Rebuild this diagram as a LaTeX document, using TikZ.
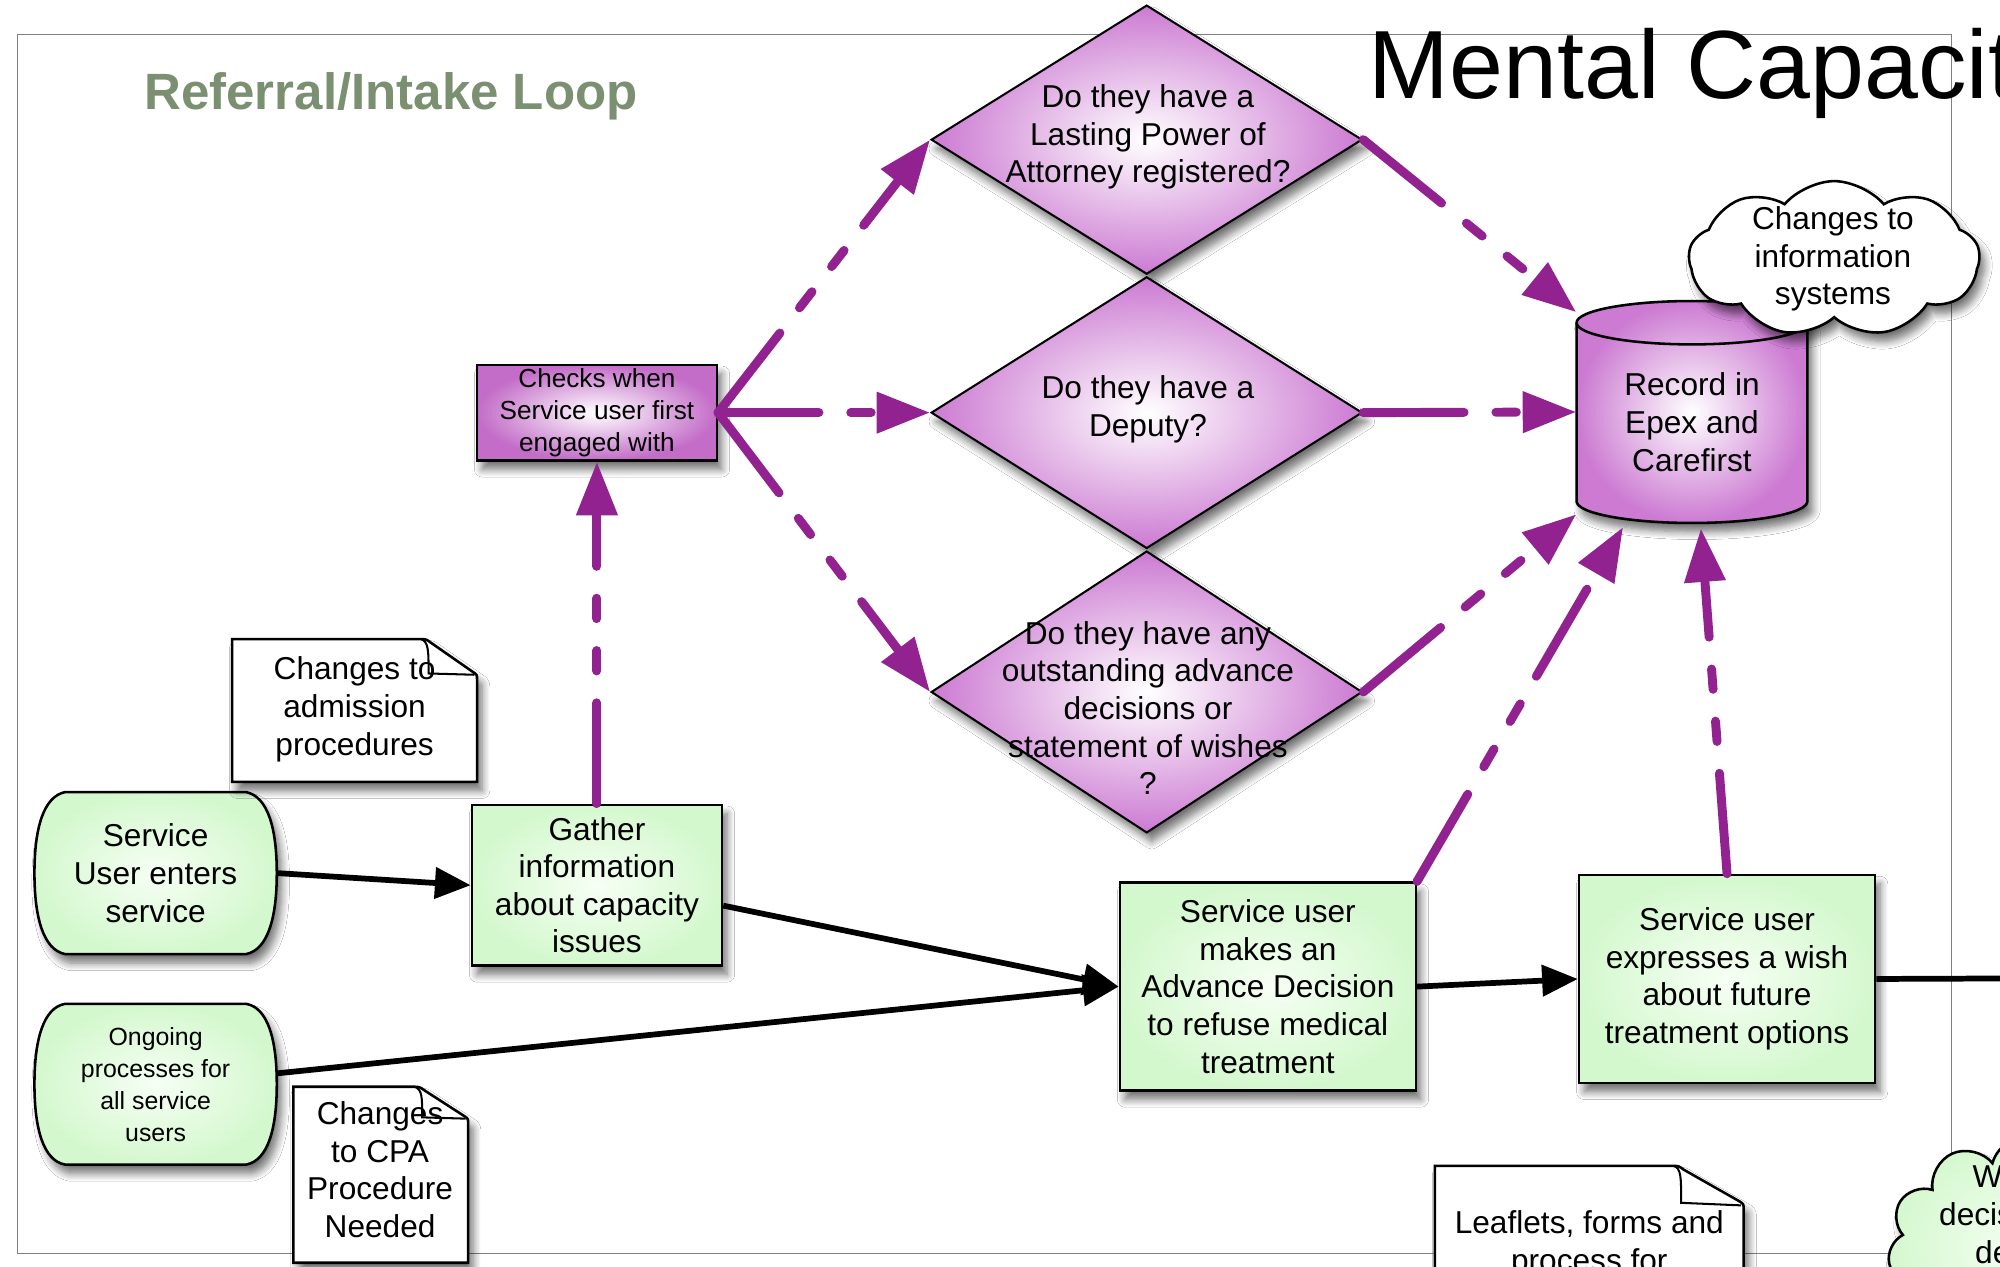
\documentclass[tikz,border=0pt]{standalone}
\usepackage{fontspec}
\setmainfont{Liberation Sans}
\usetikzlibrary{arrows.meta,shapes.geometric,shapes.symbols,shadows.blur}
\definecolor{pur}{RGB}{146,34,144}
\definecolor{pedge}{RGB}{204,122,210}
\definecolor{gedge}{RGB}{212,248,206}
\definecolor{gin}{RGB}{246,255,244}
\definecolor{ttl}{RGB}{122,144,112}
\tikzset{
  shad/.style={blur shadow={shadow xshift=4pt, shadow yshift=-7pt, shadow blur radius=6pt, shadow blur steps=8, shadow opacity=55}},
  txt/.style={font=\fontsize{24.8}{29.5}\selectfont, align=center, inner sep=0pt},
  gbox/.style={rectangle, draw=black, line width=2pt, inner color=gin, outer color=gedge, shad, txt},
  pfill/.style={inner color=white, outer color=pedge},
  dia/.style={diamond, draw=black, line width=1.6pt, pfill, shad, inner sep=0pt},
  pline/.style={draw=pur, line width=7pt, line cap=round, dash pattern=on 79pt off 25pt on 16pt off 25pt on 16pt off 25pt, -{Triangle[length=42pt,width=31pt]}},
  bline/.style={draw=black, line width=4.5pt, -{Triangle[length=28pt,width=24pt]}},
  notebox/.style={draw=black, line width=2pt, fill=white, shad}
}
\begin{document}
\begin{tikzpicture}[x=1pt,y=-1pt]
\useasboundingbox (0,0) rectangle (1568,993);
\fill[white] (0,0) rectangle (1568,993);
\begin{scope}
\clip (0,0) rectangle (1568,993);
% frame and titles
\draw[line width=0.8pt, draw=gray] (14,27) rectangle (1530,983);
\node[anchor=base west, inner sep=0pt, font=\fontsize{40}{48}\selectfont\bfseries, text=ttl] (ttl) at (113,86) {Referral/Intake Loop};
\node[anchor=base west, inner sep=0pt, font=\fontsize{76}{90}\selectfont] (mct) at (1073,77) {Mental Capacity Act};

% checks box
\node[rectangle, draw=black, line width=2pt, inner color=white, outer color=pedge!85!pur, shad, minimum width=188, minimum height=75, font=\fontsize{20.5}{25}\selectfont, align=center, inner sep=0pt] (chk) at (468,323.5) {Checks when\\Service user first\\engaged with};

% diamonds
\node[dia, minimum width=338, minimum height=211] (d1) at (899,109.5) {};
\node[txt] (d1t) at (900,107.5) {Do they have a\\Lasting Power of\\Attorney registered?};
\node[dia, minimum width=338, minimum height=213] (d2) at (899,323.5) {};
\node[txt] (d2t) at (900,321) {Do they have a\\Deputy?};
\node[dia, minimum width=338, minimum height=221] (d3) at (899,542.5) {};
\node[txt] (d3t) at (900,555) {Do they have any\\outstanding advance\\decisions or\\statement of wishes\\?};

% cylinder
\path[draw=black, line width=2pt, pfill, shad] (1236,253) -- (1236,393) arc[start angle=180, end angle=360, x radius=90.5pt, y radius=17pt] -- (1417,253) arc[start angle=0, end angle=180, x radius=90.5pt, y radius=17pt] -- cycle;
\draw[line width=2pt] (1236,253) arc[start angle=180, end angle=360, x radius=90.5pt, y radius=17pt];
\node[inner sep=0pt, minimum width=181, minimum height=174] (rec) at (1326.5,323) {};
\node[txt] (rect) at (1326.5,331) {Record in\\Epex and\\Carefirst};

% cloud
\node[cloud, cloud puffs=9, cloud puff arc=100, aspect=2.0, draw=black, line width=2pt, fill=white, shad, minimum width=228, minimum height=122, inner sep=0pt] (cl1) at (1438,203) {};
\node[txt] (cl1t) at (1437,203) {Changes to\\information\\systems};

% terminals
\begin{scope}[shift={(122,684.5)}]
\path[draw=black, line width=2pt, inner color=gin, outer color=gedge, shad] (-71,-63.5) -- (71,-63.5) .. controls (88,-60) and (95,-35) .. (95,0) .. controls (95,35) and (88,60) .. (71,63.5) -- (-71,63.5) .. controls (-88,60) and (-95,35) .. (-95,0) .. controls (-95,-35) and (-88,-60) .. (-71,-63.5) -- cycle;
\end{scope}
\node[txt, minimum width=190, minimum height=127] (sue) at (122,684.5) {Service\\User enters\\service};
\begin{scope}[shift={(122,850)}]
\path[draw=black, line width=2pt, inner color=gin, outer color=gedge, shad] (-71,-63) -- (71,-63) .. controls (88,-60) and (95,-35) .. (95,0) .. controls (95,35) and (88,60) .. (71,63) -- (-71,63) .. controls (-88,60) and (-95,35) .. (-95,0) .. controls (-95,-35) and (-88,-60) .. (-71,-63) -- cycle;
\end{scope}
\node[font=\fontsize{19.5}{25}\selectfont, align=center, inner sep=0pt, minimum width=190, minimum height=126] (ong) at (122,850.5) {Ongoing\\processes for\\all service\\users};

% green boxes
\node[gbox, minimum width=196, minimum height=126] (gath) at (468,694) {Gather\\information\\about capacity\\issues};
\node[gbox, minimum width=232, minimum height=163] (adv) at (994,773.5) {Service user\\makes an\\Advance Decision\\to refuse medical\\treatment};
\node[gbox, minimum width=232, minimum height=163] (wish) at (1354,767.5) {Service user\\expresses a wish\\about future\\treatment options};

% notes
\path[notebox] (182,501) -- (328,501) .. controls (334,501) .. (338,504) -- (371,527) .. controls (374,529) .. (374,533) -- (374,613) -- (182,613) -- cycle;
\draw[line width=1.6pt] (330,501) .. controls (336,503) and (336,510) .. (336,528) -- (372,529);
\node[txt, minimum width=192, minimum height=112] (adm) at (278,556) {Changes to\\admission\\procedures};

\path[notebox] (230,852) -- (323,852) .. controls (329,852) .. (333,855) -- (364,875) .. controls (367,877) .. (367,881) -- (367,990) -- (230,990) -- cycle;
\draw[line width=1.6pt] (325,852) .. controls (331,854) and (331,860) .. (331,876) -- (365,877);
\node[txt, minimum width=137, minimum height=138] (cpa) at (298,917) {Changes\\to CPA\\Procedure\\Needed};

\path[notebox] (1125,914) -- (1310,914) .. controls (1316,914) .. (1320,917) -- (1364,942) .. controls (1367,944) .. (1367,948) -- (1367,1070) -- (1125,1070) -- cycle;
\draw[line width=1.6pt] (1312,914) .. controls (1318,916) and (1318,922) .. (1318,943) -- (1365,945);
\node[txt] (lfl) at (1246,988) {Leaflets, forms and\\process for\\advance decisions};

% green cloud (cut off)
\node[cloud, cloud puffs=11, aspect=1.3, draw=black, line width=2pt, inner color=gin, outer color=gedge, shad, minimum width=220, minimum height=175, inner sep=0pt] (cl2) at (1590,978) {};
\node[txt] (cl2t) at (1572,952) {Who\\decisions\\deal};

% black connectors
\coordinate (offr) at (1600,767);
\draw[bline] (sue.east) -- (gath.west);
\draw[bline] ([yshift=-16pt]gath.east) -- (adv.west);
\draw[bline] ([yshift=9pt]ong.east) -- (adv.west);
\draw[bline] (adv.east) -- (wish.west);
\draw[line width=4.5pt] (wish.east) -- (offr);

% purple connectors
\draw[pline] (gath.north) -- (chk.south);
\draw[pline] (chk.east) -- (d1.west);
\draw[pline] (chk.east) -- (d2.west);
\draw[pline] (chk.east) -- (d3.west);
\draw[pline] (d1.east) -- ([yshift=-9pt]rec.north west);
\draw[pline] (d2.east) -- (rec.west);
\draw[pline] (d3.east) -- ([yshift=7pt]rec.south west);
\draw[pline] (adv.north east) -- ([xshift=-54pt,yshift=-3pt]rec.south);
\draw[pline] (wish.north) -- ([xshift=7pt,yshift=-4pt]rec.south);
\end{scope}
\end{tikzpicture}
\end{document}
